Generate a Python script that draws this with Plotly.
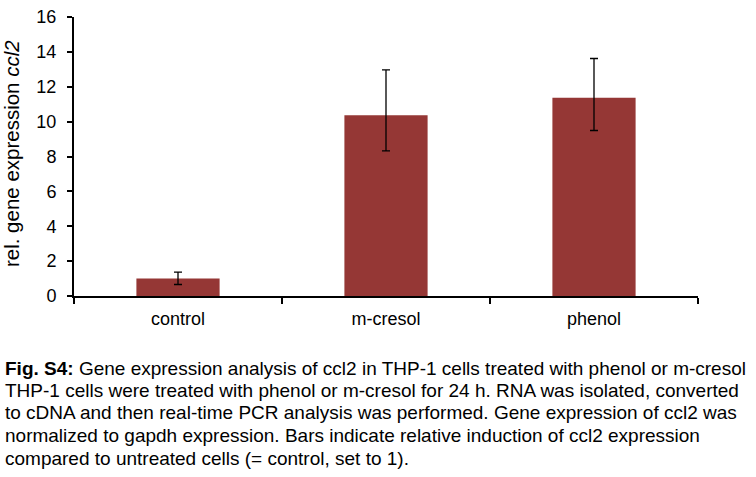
import plotly.graph_objects as go

categories = ["control", "m-cresol", "phenol"]
values = [1.0, 10.37, 11.37]
err_plus = [0.37, 2.6, 2.25]
err_minus = [0.34, 2.05, 1.88]
y_ticks = [0, 2, 4, 6, 8, 10, 12, 14, 16]
caption_lines = [
    "<b>Fig. S4:</b> Gene expression analysis of ccl2 in THP-1 cells treated with phenol or m-cresol",
    "THP-1 cells were treated with phenol or m-cresol for 24 h. RNA was isolated, converted",
    "to cDNA and then real-time PCR analysis was performed. Gene expression of ccl2 was",
    "normalized to gapdh expression. Bars indicate relative induction of ccl2 expression",
    "compared to untreated cells (= control, set to 1).",
]
caption_y_px = [371, 394, 417, 441, 464]

W, H = 756, 477
L, R, T, B = 74, 58, 7, 181
PW, PH = W - L - R, H - T - B
FONT = "Liberation Sans, Arial, sans-serif"

fig = go.Figure()
fig.add_trace(go.Bar(
    x=categories, y=values,
    marker=dict(color="#953735", line=dict(width=0)),
    width=0.4,
    error_y=dict(type="data", symmetric=False, array=err_plus, arrayminus=err_minus,
                 color="black", thickness=1.3, width=4),
))

annotations = [dict(
    text="rel. gene expression <i>ccl2</i>", textangle=-90,
    xref="paper", yref="paper", x=(11 - L) / PW, y=(T + PH - 149) / PH,
    xanchor="center", yanchor="middle", showarrow=False,
    font=dict(family=FONT, size=20.5, color="black"),
)]
for line, ypx in zip(caption_lines, caption_y_px):
    annotations.append(dict(
        text=line, xref="paper", yref="paper",
        x=(3 - L) / PW, y=(T + PH - ypx) / PH,
        xanchor="left", yanchor="middle", showarrow=False, align="left",
        font=dict(family=FONT, size=19, color="black"),
    ))

fig.update_layout(
    width=W, height=H,
    margin=dict(l=L, r=R, t=T, b=B, pad=0),
    paper_bgcolor="white", plot_bgcolor="white",
    showlegend=False,
    font=dict(family=FONT, size=18, color="black"),
    annotations=annotations,
    xaxis=dict(
        type="category", range=[-0.5, 2.5], tickson="boundaries",
        ticks="outside", ticklen=6, tickwidth=2, tickcolor="black",
        showline=True, linecolor="black", linewidth=2,
        showgrid=False, zeroline=False,
        tickfont=dict(family=FONT, size=18, color="black"),
        ticklabelstandoff=5,
    ),
    yaxis=dict(
        range=[0, 16], tickvals=y_ticks,
        ticks="outside", ticklen=5, tickwidth=2, tickcolor="black",
        showline=True, linecolor="black", linewidth=2,
        showgrid=False, zeroline=False,
        tickfont=dict(family=FONT, size=18, color="black"),
        ticklabelstandoff=7, ticklabeloverflow="allow",
    ),
)

fig.write_html("out.html", config={"displayModeBar": False},
               post_script="document.body.style.margin='0';document.body.style.overflow='hidden';")
